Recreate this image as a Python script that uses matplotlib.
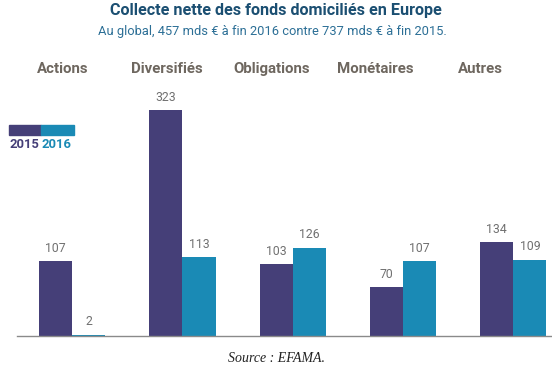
import matplotlib.pyplot as plt
import numpy as np

# Data (mds EUR)
categories = ["Actions", "Diversifiés", "Obligations", "Monétaires", "Autres"]
values_2015 = [107, 323, 103, 70, 134]
values_2016 = [2, 113, 126, 107, 109]
years = ["2015", "2016"]

purple = "#453f78"
teal = "#1a8ab5"
label_grey = "#6e675f"

plt.rcParams['font.family'] = ['Roboto', 'DejaVu Sans']

fig = plt.figure(figsize=(5.52, 3.69), dpi=100)
ax = fig.add_axes([17 / 552, 1 - 336 / 369, 1 - 17 / 552, 236 / 369])

x = np.arange(len(categories)) * 1.0
w = 0.30
b1 = ax.bar(x - w / 2, values_2015, w, color=purple)
b2 = ax.bar(x + w / 2, values_2016, w, color=teal)

for bars in (b1, b2):
    for rect in bars:
        h = rect.get_height()
        ax.text(rect.get_x() + rect.get_width() / 2, h + 9, f"{int(h)}",
                ha="center", va="bottom", fontsize=8.8, color="#707070")

ax.set_xlim(-0.5, 4.35)
ax.set_ylim(0, 337)
for s in ["top", "right", "left"]:
    ax.spines[s].set_visible(False)
ax.spines["bottom"].set_color("#8a8a8a")
ax.spines["bottom"].set_linewidth(1.0)
ax.set_xticks([])
ax.set_yticks([])

# category headers
for i, cat in enumerate(categories):
    fig.text((63 + 104.25 * i) / 552, 1 - 69 / 369, cat, ha="center", va="center",
             fontsize=10.8, fontweight="bold", color=label_grey)

# title / subtitle
fig.text(0.5, 1 - 11 / 369, "Collecte nette des fonds domiciliés en Europe",
         ha="center", va="center", fontsize=11.6, fontweight="bold", color="#1b4f72")
fig.text(0.493, 1 - 32 / 369, "Au global, 457 mds € à fin 2016 contre 737 mds € à fin 2015.",
         ha="center", va="center", fontsize=9.3, color="#2c6f96")

# legend
fig.patches.append(plt.Rectangle((9 / 552, 1 - 135 / 369), 32 / 552, 10 / 369,
                                 transform=fig.transFigure, color=purple))
fig.patches.append(plt.Rectangle((41 / 552, 1 - 135 / 369), 33 / 552, 10 / 369,
                                 transform=fig.transFigure, color=teal))
fig.text(9 / 552, 1 - 145 / 369, years[0], ha="left", va="center",
         fontsize=9.4, fontweight="bold", color=purple)
fig.text(42 / 552, 1 - 145 / 369, years[1], ha="left", va="center",
         fontsize=9.4, fontweight="bold", color=teal)

fig.text(0.5, 1 - 358 / 369, "Source : EFAMA.", ha="center", va="center",
         fontsize=10, style="italic", family="Liberation Serif", color="#222222")

plt.savefig("out.png", dpi=100)
plt.close()
